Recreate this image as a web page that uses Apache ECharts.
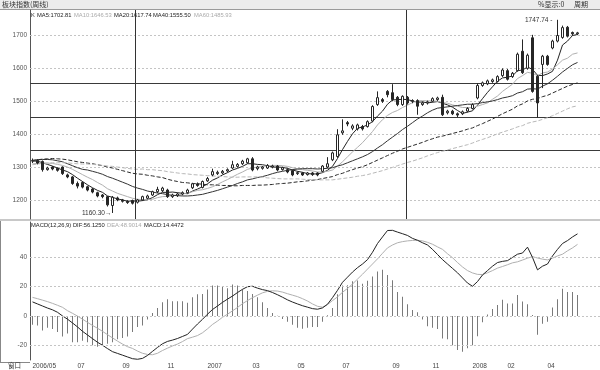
<!DOCTYPE html>
<html><head><meta charset="utf-8">
<script src="https://cdn.jsdelivr.net/npm/echarts@6/dist/echarts.min.js"></script>
<style>html,body{margin:0;padding:0;background:#fff}#c{width:600px;height:370px}</style>
</head><body><div id="c"></div>
<script>
const opens=[1318,1320,1317,1292,1300,1296,1300,1276,1270,1250,
 1253,1240,1233,1222,1215,1210,1183,1206,1200,1196,
 1198,1193,1200,1205,1215,1225,1228,1230,1210,1213,
 1218,1222,1237,1249,1238,1258,1276,1280,1282,1288,
 1297,1302,1310,1313,1325,1295,1296,1297,1300,1303,
 1292,1292,1289,1280,1282,1277,1282,1282,1287,1300,
 1322,1332,1404,1435,1418,1416,1423,1423,1440,1490,
 1505,1530,1526,1512,1490,1512,1502,1502,1490,1495,
 1500,1505,1512,1465,1470,1462,1462,1470,1478,1510,
 1548,1553,1560,1560,1578,1593,1575,1593,1652,1600,
 1693,1576,1612,1637,1662,1683,1694,1725,1709,1705];
const closes=[1320,1312,1292,1297,1294,1290,1280,1270,1250,1242,
 1239,1230,1224,1212,1210,1185,1208,1200,1196,1192,
 1190,1200,1210,1212,1225,1232,1236,1210,1215,1218,
 1222,1230,1249,1244,1256,1265,1286,1284,1287,1292,
 1307,1308,1318,1325,1291,1300,1300,1305,1303,1291,
 1298,1285,1276,1283,1276,1282,1277,1276,1303,1310,
 1343,1398,1410,1431,1425,1428,1416,1438,1484,1511,
 1500,1520,1505,1490,1515,1495,1500,1485,1495,1498,
 1508,1510,1459,1470,1462,1458,1468,1478,1490,1548,
 1556,1562,1565,1575,1595,1567,1585,1643,1587,1640,
 1530,1495,1637,1612,1683,1700,1724,1698,1705,1708];
const lows=[1312,1308,1286,1289,1290,1286,1276,1266,1246,1235,
 1235,1226,1220,1208,1205,1180,1160.3,1196,1192,1188,
 1186,1189,1197,1202,1212,1221,1224,1206,1206,1209,
 1214,1219,1233,1240,1235,1255,1272,1276,1278,1284,
 1294,1298,1306,1310,1287,1290,1292,1294,1296,1287,
 1289,1281,1272,1276,1273,1274,1273,1272,1284,1297,
 1318,1328,1398,1424,1412,1411,1411,1420,1436,1486,
 1495,1512,1500,1485,1486,1490,1494,1459,1486,1490,
 1497,1501,1455,1460,1458,1452,1458,1466,1475,1506,
 1544,1549,1556,1557,1574,1563,1571,1590,1583,1596,
 1526,1450,1540,1608,1658,1679,1690,1694,1699,1701];
const highs=[1326,1324,1320,1301,1303,1299,1302,1280,1273,1256,
 1257,1243,1236,1225,1218,1212,1212,1210,1203,1199,
 1201,1203,1213,1216,1228,1240,1240,1234,1219,1222,
 1226,1234,1252,1253,1259,1270,1295,1289,1291,1296,
 1319,1312,1322,1328,1330,1304,1303,1309,1307,1306,
 1301,1296,1292,1287,1285,1285,1285,1284,1306,1330,
 1347,1415,1445,1440,1430,1432,1428,1442,1488,1530,
 1510,1534,1552,1516,1518,1516,1506,1506,1499,1502,
 1512,1514,1520,1474,1474,1466,1472,1482,1494,1555,
 1560,1566,1569,1579,1600,1598,1589,1648,1688,1645,
 1702,1580,1641,1641,1687,1747.74,1730,1729,1712,1711];
const ma5=[1318,1318,1313,1308,1303,1297,1291,1286,1277,1266,
 1256,1246,1237,1229,1223,1212,1208,1203,1200,1196,
 1197,1196,1198,1201,1207,1216,1223,1223,1224,1222,
 1220,1219,1227,1233,1240,1249,1260,1267,1276,1283,
 1291,1296,1302,1310,1310,1308,1307,1304,1300,1300,
 1299,1296,1291,1287,1284,1280,1279,1279,1283,1290,
 1302,1326,1353,1378,1401,1418,1422,1428,1438,1455,
 1470,1491,1504,1505,1506,1505,1501,1497,1498,1495,
 1497,1499,1494,1489,1482,1472,1463,1467,1471,1488,
 1508,1527,1544,1561,1571,1573,1577,1593,1595,1604,
 1597,1579,1578,1583,1591,1625,1671,1683,1700,1703];
const ma10=[1309,1312,1312,1312,1311,1308,1305,1300,1293,1285,
 1277,1269,1262,1253,1245,1234,1227,1220,1215,1210,
 1205,1202,1201,1201,1202,1207,1210,1211,1213,1215,
 1218,1221,1225,1229,1231,1235,1240,1247,1255,1262,
 1270,1278,1285,1293,1297,1300,1302,1303,1305,1305,
 1304,1302,1298,1294,1292,1290,1288,1285,1285,1287,
 1291,1303,1316,1331,1346,1360,1374,1391,1408,1428,
 1444,1457,1466,1472,1481,1488,1496,1501,1502,1501,
 1501,1500,1496,1494,1489,1485,1481,1481,1480,1485,
 1490,1495,1506,1516,1530,1541,1552,1569,1578,1588,
 1585,1578,1586,1589,1598,1611,1625,1631,1643,1647];
const ma20=[1320,1322,1323,1323,1322,1319,1316,1310,1304,1298,
 1293,1291,1287,1283,1278,1271,1266,1260,1254,1248,
 1241,1236,1232,1227,1224,1221,1219,1216,1214,1213,
 1212,1212,1213,1215,1217,1221,1225,1229,1234,1239,
 1244,1250,1255,1261,1264,1268,1271,1275,1280,1284,
 1287,1290,1292,1294,1295,1295,1295,1294,1295,1296,
 1298,1303,1307,1313,1319,1325,1331,1338,1347,1358,
 1368,1380,1391,1402,1414,1424,1435,1446,1455,1465,
 1473,1479,1481,1483,1485,1487,1489,1491,1491,1493,
 1496,1498,1501,1505,1510,1513,1517,1525,1529,1537,
 1538,1537,1546,1553,1564,1576,1589,1600,1611,1618];
const ma40=[1320,1322,1324,1325,1326,1325,1324,1322,1319,1316,
 1314,1312,1310,1307,1304,1300,1297,1293,1289,1285,
 1281,1279,1278,1275,1273,1270,1268,1263,1259,1256,
 1253,1252,1250,1249,1248,1246,1246,1245,1244,1244,
 1243,1243,1244,1244,1244,1245,1245,1246,1247,1249,
 1250,1251,1253,1255,1256,1258,1260,1262,1265,1268,
 1271,1277,1281,1287,1292,1297,1301,1307,1314,1321,
 1328,1335,1342,1348,1355,1360,1365,1370,1375,1381,
 1386,1391,1394,1398,1402,1406,1410,1415,1419,1426,
 1432,1439,1446,1454,1462,1469,1476,1486,1492,1501,
 1506,1508,1514,1518,1525,1532,1539,1546,1551,1556];
const ma60=[1307,1309,1311,1312,1313,1313,1313,1313,1311,1310,
 1309,1309,1308,1307,1305,1303,1302,1300,1298,1296,
 1294,1293,1294,1292,1292,1290,1289,1286,1284,1282,
 1280,1279,1277,1276,1275,1274,1273,1272,1271,1270,
 1269,1269,1270,1270,1270,1270,1269,1267,1266,1265,
 1264,1264,1264,1264,1263,1262,1262,1261,1261,1261,
 1261,1263,1265,1267,1269,1272,1274,1277,1281,1285,
 1289,1294,1299,1304,1309,1314,1318,1323,1328,1334,
 1339,1344,1348,1352,1356,1360,1364,1368,1373,1379,
 1384,1389,1395,1401,1406,1411,1416,1422,1426,1433,
 1437,1440,1445,1450,1456,1463,1470,1477,1483,1486];
const dif=[9.6,8.2,6.8,5.4,4.2,2.5,0,-2.2,-4.8,-7.5,
 -10.5,-13,-15.5,-18,-20,-22.3,-24.4,-25.6,-26.8,-28,
 -29.2,-29.6,-29,-27,-24.2,-21.5,-19,-17.4,-16.5,-15.4,
 -14,-12.6,-9,-5.5,-2.3,1.2,4.4,6.8,9.3,11.5,
 13.6,16,18.2,20,20.3,19,18,17.3,16,14.5,
 12.8,11,9.5,8.2,7,6,5,4.6,5.5,8,
 12.5,17.5,23,26.5,30,33,35.5,38.5,43.5,49.5,
 54,58.4,58.5,57.3,56.2,55,53,51.7,50,48.5,
 45.5,42,38.5,35.5,32.5,29.5,26,22.5,20.3,23.5,
 28,31,34,36.5,37.3,37.8,40,42.2,43,47,
 40,31.5,34,35.5,41,45.5,49.5,51.5,54,56.1];
const dea=[12.7,11.8,10.8,9.8,8.6,7.3,5.9,3.6,1.8,-0.1,
 -2.2,-4.4,-6.5,-8.4,-10.5,-12.8,-15,-17.2,-19.2,-21,
 -22.2,-24,-25.5,-26.3,-26.5,-25.5,-23.6,-22,-20.5,-19.2,
 -17.5,-15.5,-14.5,-13.4,-11.5,-8.8,-5.8,-3.5,-0.9,1.2,
 3.5,5.8,8.4,10.5,12.5,14.2,15.8,16.8,17.2,17,
 16.3,15.2,14.2,13.2,11.8,10.2,8.2,6.6,6,7.8,
 10.5,13,16.2,18.8,21.8,25.2,28.5,32,35.5,39,
 42.8,46.5,48.5,50,50.8,51.3,51.6,51.7,51.3,50.3,
 49,47.2,45.5,42.5,39.8,36.5,33.5,31,29.4,28.4,
 28.3,29.5,31,32.7,33.8,35,36.3,37,38.2,39.5,
 40.5,39.6,38.8,38.3,39.5,41,42.2,44.5,46.5,48.9];
const macdHist=[-6,-6.5,-10,-8,-9,-11,-14,-12,-18,-18,
 -17,-18,-20,-21,-20,-19,-18,-16,-15,-14,
 -11,-7.5,-6.5,-2.5,2,5.4,9.4,11.4,10,10,
 10,9,12.8,14.8,15,18,20.8,20.8,20,19,
 21.5,20.8,18,17,15,12.8,9.4,5.4,2,0.2,
 -2,-4,-6,-8,-8.7,-8,-7.6,-7.6,-4,0.5,
 5.4,14.8,20.8,21,23.7,24.3,22,24,27,30.4,
 31.5,28,24.4,16.3,13.2,8,4,2.5,-2.5,-7,
 -8,-9,-15.4,-16,-20,-23.3,-24.4,-22,-20,-13.9,
 -4.3,1,4.7,7.4,11,8.5,8.5,14.3,9.8,8,
 0.7,-12.8,-5.4,-4,5.8,11.4,18.6,16.3,16.3,14.4];

const priceTicks=[1200,1300,1400,1500,1600,1700];
const macdTicks=[-20,0,20,40];
const levelLines=[1352,1451,1555];
const crossIdx=[21,75];
const tickIdx=[0,9,18,27,35,44,53,62,72,80,88,95,103];
const tickText=['2006/05','07','09','11','2007','03','05','07','09','11','2008','02','04'];
const maLegend=[['K','#333'],['MA5:1702.81','#222'],['MA10:1646.53','#aaa'],['MA20:1617.74','#222'],['MA40:1555.50','#222'],['MA60:1485.93','#aaa']];
const maLegendX=[31,37,74,114,153,194];
const macdLegend=[['MACD(12,26,9) DIF:56.1250','#222'],['DEA:48.9014','#aaa'],['MACD:14.4472','#222']];
const macdLegendX=[31,107,144];

const PAD=4, N=opens.length;
const cats=[]; for(let i=0;i<N+PAD;i++) cats.push('W'+(i+1));
const candle=opens.map((o,i)=>[o,closes[i],lows[i],highs[i]]);

const GL=30, GW=572, barW=GW/(N+PAD);
const MT=10, MH=209, BT=222, BH=140;
const FONT='"Liberation Sans", Arial, sans-serif';
const CJK='"Noto Sans CJK SC", sans-serif';

const chart=echarts.init(document.getElementById('c'),null,{renderer:'canvas'});

const gfx=[
 {type:'rect',shape:{x:0,y:0,width:600,height:9},style:{fill:'#ececec'},silent:true},
 {type:'line',shape:{x1:0,y1:9.5,x2:600,y2:9.5},style:{stroke:'#9a9a9a',lineWidth:1},silent:true},
 {type:'text',x:2,y:0.5,style:{text:'板块指数(周线)',font:'7px '+CJK,fill:'#333'},silent:true},
 {type:'text',x:538,y:0.5,style:{text:'%显示:0',font:'7px '+CJK,fill:'#333'},silent:true},
 {type:'text',x:574,y:0.5,style:{text:'周期',font:'7px '+CJK,fill:'#333'},silent:true},
 {type:'rect',shape:{x:0,y:219,width:600,height:2},style:{fill:'#c8c8c8'},silent:true},
 {type:'line',shape:{x1:0.5,y1:221,x2:0.5,y2:362},style:{stroke:'#888',lineWidth:1},silent:true},
 {type:'line',shape:{x1:0,y1:362.5,x2:30,y2:362.5},style:{stroke:'#888',lineWidth:1},silent:true},
 {type:'text',x:8,y:362.5,style:{text:'窗口',font:'6.5px '+CJK,fill:'#333'},silent:true}
];
crossIdx.forEach(k=>{const x=Math.round(GL+k*barW)+0.5;gfx.push({type:'line',z:50,shape:{x1:x,y1:MT,x2:x,y2:MT+MH},style:{stroke:'#333',lineWidth:1},silent:true});});
maLegend.forEach((m,k)=>gfx.push({type:'text',x:maLegendX[k],y:12,style:{text:m[0],font:'5.8px '+FONT,fill:m[1]},silent:true}));
macdLegend.forEach((m,k)=>gfx.push({type:'text',x:macdLegendX[k],y:222.5,style:{text:m[0],font:'5.8px '+FONT,fill:m[1]},silent:true}));

const lineS=(name,data,color,type)=>({name,type:'line',xAxisIndex:0,yAxisIndex:0,data,symbol:'none',showSymbol:false,
  lineStyle:{color,width:1,type:type||'solid'},z:3,silent:true});

chart.setOption({
 animation:false,
 backgroundColor:'#fff',
 grid:[{left:GL,top:MT,width:GW,height:MH},{left:GL,top:BT,width:GW,height:BH}],
 xAxis:[
  {type:'category',gridIndex:0,data:cats,boundaryGap:true,show:false},
  {type:'category',gridIndex:1,data:cats,boundaryGap:true,
   axisLine:{show:false},axisTick:{show:false},splitLine:{show:false},
   axisLabel:{interval:(i)=>tickIdx.includes(i),formatter:(v,i)=>{const k=tickIdx.indexOf(i);return k>=0?tickText[k]:'';},
     fontSize:6.5,fontFamily:FONT,color:'#444',align:'left',margin:3}}
 ],
 yAxis:[
  {type:'value',gridIndex:0,min:1142,max:1777.5,scale:true,
   axisLine:{show:true,lineStyle:{color:'#555'}},axisTick:{show:false},splitLine:{show:false},
   axisLabel:{customValues:priceTicks,formatter:v=>String(v),fontSize:6.5,fontFamily:FONT,color:'#555',margin:3}},
  {type:'value',gridIndex:1,min:-30.1,max:64.2,
   axisLine:{show:true,lineStyle:{color:'#555'}},axisTick:{show:false},splitLine:{show:false},
   axisLabel:{customValues:macdTicks,formatter:v=>String(v),fontSize:6.5,fontFamily:FONT,color:'#555',margin:3}}
 ],
 graphic:gfx,
 series:[
  {name:'K',type:'candlestick',xAxisIndex:0,yAxisIndex:0,data:candle,barWidth:3,z:4,silent:true,
   itemStyle:{color:'#ffffff',color0:'#262626',borderColor:'#262626',borderColor0:'#262626',borderWidth:1},
   markLine:{silent:true,symbol:['none','none'],label:{show:false},animation:false,z:1,
     data:[...priceTicks.map(v=>({yAxis:v,lineStyle:{type:[2,2],color:'#c4c4c4',width:1}})),
           ...levelLines.map(v=>({yAxis:v,lineStyle:{type:'solid',color:'#3a3a3a',width:1}}))]},
   markPoint:{symbol:'circle',symbolSize:0.1,silent:true,animation:false,
     data:[
      {type:'max',valueDim:'highest',label:{show:true,position:'left',distance:5,formatter:p=>p.value.toFixed(2)+' -',fontSize:6.5,fontFamily:FONT,color:'#333'}},
      {type:'min',valueDim:'lowest',label:{show:true,position:'left',distance:1,formatter:p=>p.value.toFixed(2)+'→',fontSize:6.5,fontFamily:FONT,color:'#333'}}
     ]}
  },
  lineS('MA5',ma5,'#222'),
  lineS('MA10',ma10,'#b0b0b0'),
  lineS('MA20',ma20,'#333'),
  lineS('MA40',ma40,'#2a2a2a',[4,2]),
  lineS('MA60',ma60,'#b8b8b8',[4,2]),
  {name:'MACD',type:'bar',xAxisIndex:1,yAxisIndex:1,data:macdHist,barWidth:1,silent:true,
   itemStyle:{color:'#7a7a7a'},
   markLine:{silent:true,symbol:['none','none'],label:{show:false},animation:false,
     data:macdTicks.map(v=>({yAxis:v,lineStyle:{type:[2,2],color:'#c4c4c4',width:1}}))}},
  {name:'DIF',type:'line',xAxisIndex:1,yAxisIndex:1,data:dif,symbol:'none',lineStyle:{color:'#222',width:1},z:4,silent:true},
  {name:'DEA',type:'line',xAxisIndex:1,yAxisIndex:1,data:dea,symbol:'none',lineStyle:{color:'#b0b0b0',width:1},z:3,silent:true}
 ]
});
</script></body></html>
